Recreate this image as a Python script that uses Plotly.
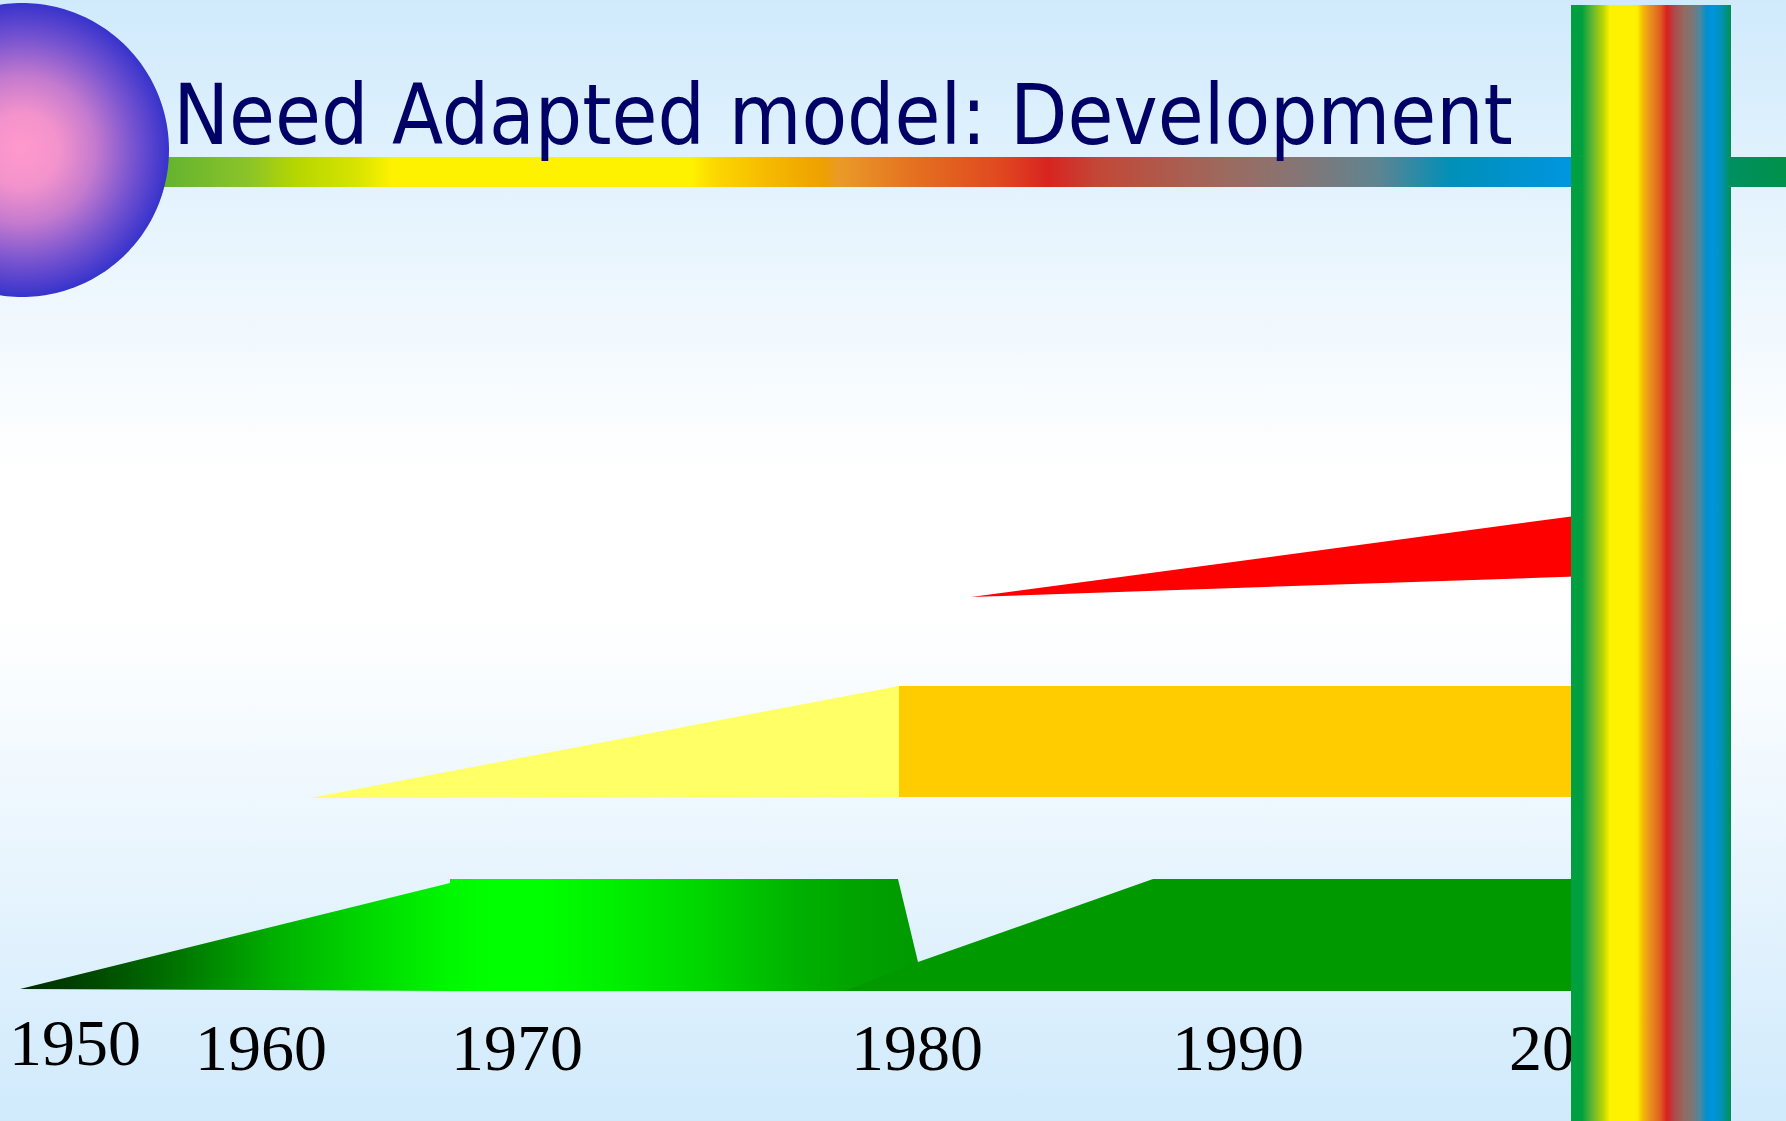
import plotly.graph_objects as go
import math

W, H = 1786, 1121

# ---- data (slide units: x to the right, y downward) ----
title_text = "Need Adapted model: Development"
year_labels = ["1950", "1960", "1970", "1980", "1990", "2000"]
year_label_x = [75, 261, 517, 917, 1238, 1575]
year_label_y = [1048, 1053, 1053, 1053, 1053, 1053]

# red wedge (newest stream)
red_x = [971, 1590, 1590]
red_y = [597, 514, 576]
# yellow wedge + orange band
yellow_x = [310, 899, 899]
yellow_y = [798, 686, 797]
orange_x = [899, 1590, 1590, 899]
orange_y = [686, 686, 797, 797]
# green stream, early part (gradient) and later part
green1_x = [20, 450, 450, 898, 918, 918, 450]
green1_y = [989, 883, 879, 879, 962, 991, 991]
green2_x = [845, 918, 1153, 1590, 1590]
green2_y = [991, 962, 879, 879, 991]

# ---- helpers ----
def grad_scale(stops, x0, x1):
    return [[(x - x0) / (x1 - x0), c] for x, c in stops]

fig = go.Figure()

# background
fig.add_trace(go.Scatter(
    x=[-5, W + 5, W + 5, -5], y=[-5, -5, H + 5, H + 5], fill="toself", mode="lines",
    line=dict(width=0), hoverinfo="skip",
    fillgradient=dict(type="vertical", start=0, stop=H,
                      colorscale=[[0, "#d0eafc"], [0.42, "#ffffff"], [0.55, "#ffffff"], [1, "#d0eafc"]])))

# horizontal rainbow bar
hb_x0, hb_x1 = 163, W
hb_stops = [(163, "#62b330"), (250, "#8cc428"), (295, "#b5d600"), (358, "#d8e400"),
            (393, "#fff200"), (691, "#fff200"), (714, "#fcd800"), (771, "#f5b800"),
            (823, "#eea000"), (840, "#ea9a28"), (915, "#e47020"), (1001, "#e04820"),
            (1048, "#d82420"), (1100, "#c24838"), (1226, "#9c6a5e"), (1301, "#847676"),
            (1376, "#608490"), (1451, "#0090b8"), (1571, "#0096e0"), (1700, "#0096a0"),
            (1731, "#009060"), (1786, "#00914a")]
fig.add_trace(go.Scatter(
    x=[hb_x0, hb_x1, hb_x1, hb_x0], y=[157, 157, 187, 187], fill="toself", mode="lines",
    line=dict(width=0), hoverinfo="skip",
    fillgradient=dict(type="horizontal", start=hb_x0, stop=hb_x1,
                      colorscale=grad_scale(hb_stops, hb_x0, hb_x1))))

# circle logo
cx, cy, r = 22, 150, 147
n = 240
circ_x = [cx + r * math.cos(2 * math.pi * i / n) for i in range(n + 1)]
circ_y = [cy + r * math.sin(2 * math.pi * i / n) for i in range(n + 1)]
fig.add_trace(go.Scatter(
    x=circ_x, y=circ_y, fill="toself", mode="lines", line=dict(width=0, simplify=False),
    hoverinfo="skip",
    fillgradient=dict(type="radial",
                      colorscale=[[0, "#ff99cc"], [0.25, "#f393cc"], [0.5, "#c47ace"],
                                  [0.75, "#7a55d0"], [1, "#3733cc"]])))

# title
fig.add_trace(go.Scatter(
    x=[843], y=[123], mode="text", text=[title_text], textposition="middle center",
    textfont=dict(family="DejaVu Sans Condensed, Open Sans, sans-serif", size=83, color="#000066"),
    hoverinfo="skip"))

# red wedge
fig.add_trace(go.Scatter(x=red_x, y=red_y, fill="toself", mode="lines", line=dict(width=0),
                         fillcolor="#ff0000", hoverinfo="skip"))
# yellow wedge
fig.add_trace(go.Scatter(x=yellow_x, y=yellow_y, fill="toself", mode="lines", line=dict(width=0),
                         fillcolor="#ffff66", hoverinfo="skip"))
# orange band
fig.add_trace(go.Scatter(x=orange_x, y=orange_y, fill="toself", mode="lines", line=dict(width=0),
                         fillcolor="#ffcc00", hoverinfo="skip"))

# green early (gradient)
g_x0, g_x1 = 20, 918
g_stops = [(20, "#002800"), (100, "#004c00"), (184, "#007800"), (276, "#00b000"),
           (367, "#00d800"), (450, "#00f800"), (490, "#00ff00"), (540, "#00ff00"),
           (612, "#00f000"), (704, "#00d400"), (796, "#00b200"), (850, "#00a400"),
           (898, "#009c00"), (918, "#009a00")]
fig.add_trace(go.Scatter(
    x=green1_x, y=green1_y, fill="toself", mode="lines", line=dict(width=0), hoverinfo="skip",
    fillgradient=dict(type="horizontal", start=g_x0, stop=g_x1,
                      colorscale=grad_scale(g_stops, g_x0, g_x1))))
# green later
fig.add_trace(go.Scatter(x=green2_x, y=green2_y, fill="toself", mode="lines", line=dict(width=0),
                         fillcolor="#009a00", hoverinfo="skip"))

# year labels
fig.add_trace(go.Scatter(
    x=year_label_x, y=year_label_y, mode="text", text=year_labels, textposition="middle center",
    textfont=dict(family="Liberation Serif, Times New Roman, serif", size=66, color="#000000"),
    hoverinfo="skip"))

# vertical rainbow bar
vb_x0, vb_x1 = 1571, 1731
vb_stops = [(1571, "#00a040"), (1582, "#00a040"), (1593, "#6ab830"), (1603, "#b8d600"),
            (1610, "#fff200"), (1637, "#fff200"), (1642, "#f5c000"), (1650, "#e89020"),
            (1660, "#e06020"), (1667, "#d82020"), (1674, "#b04848"), (1684, "#926a62"),
            (1693, "#7a7878"), (1700, "#4a88a0"), (1707, "#0090d0"), (1713, "#0094e0"),
            (1722, "#0092b0"), (1731, "#009050")]
fig.add_trace(go.Scatter(
    x=[vb_x0, vb_x1, vb_x1, vb_x0], y=[5, 5, H + 10, H + 10], fill="toself", mode="lines",
    line=dict(width=0), hoverinfo="skip",
    fillgradient=dict(type="horizontal", start=vb_x0, stop=vb_x1,
                      colorscale=grad_scale(vb_stops, vb_x0, vb_x1))))

fig.update_layout(
    width=W, height=H, autosize=False,
    margin=dict(l=0, r=0, t=0, b=0, pad=0),
    paper_bgcolor="#ffffff", plot_bgcolor="#ffffff",
    showlegend=False,
    xaxis=dict(range=[0, W], visible=False, fixedrange=True),
    yaxis=dict(range=[H, 0], visible=False, fixedrange=True),
)

fig.write_html("out.html", config={"displayModeBar": False},
               post_script="document.body.style.margin='0';document.body.style.overflow='hidden';")
